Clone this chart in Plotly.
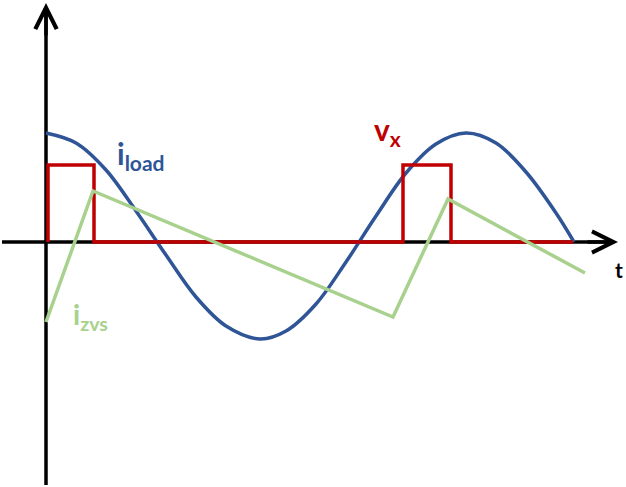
import plotly.graph_objects as go

# time axis (arbitrary units, origin at the vertical axis)
t_load = [0, 30, 60, 90, 120, 150, 180, 214, 240, 270, 300, 330, 360, 390, 420, 450, 480, 510, 528]
i_load = [109, 99, 72, 31, -13, -55, -84, -97, -89, -62, -20, 26, 69, 98, 109, 99, 70, 29, 0]

t_vx = [2, 2, 48, 48, 357, 357, 405, 405, 527]
v_x = [0, 77, 77, 0, 0, 77, 77, 0, 0]

t_zvs = [0, 47, 347, 402, 539]
i_zvs = [-80, 51, -75, 43, -31]

labels = ["i<sub>load</sub>", "v<sub>x</sub>", "i<sub>zvs</sub>", "t"]

BLUE = "#2F5597"
RED = "#C00000"
GREEN = "#A9D18E"

fig = go.Figure()
fig.add_trace(go.Scatter(x=t_load, y=i_load, mode="lines",
                         line=dict(color=BLUE, width=3.5, shape="spline"), hoverinfo="skip"))
fig.add_trace(go.Scatter(x=t_vx, y=v_x, mode="lines",
                         line=dict(color=RED, width=3.5), hoverinfo="skip"))
fig.add_trace(go.Scatter(x=t_zvs, y=i_zvs, mode="lines",
                         line=dict(color=GREEN, width=3.5), hoverinfo="skip"))

# axes lines (below traces)
fig.add_shape(type="line", x0=-44, x1=568, y0=0, y1=0, line=dict(color="black", width=3.5), layer="below")
fig.add_shape(type="line", x0=0, x1=0, y0=-243, y1=234, line=dict(color="black", width=3.5), layer="below")

# arrowheads
fig.add_annotation(x=572, y=0, ax=540, ay=0, axref="x", ayref="y", xref="x", yref="y",
                   showarrow=True, arrowhead=5, arrowwidth=3.5, arrowsize=1.2, arrowcolor="black", text="")
fig.add_annotation(x=0, y=239, ax=0, ay=205, axref="x", ayref="y", xref="x", yref="y",
                   showarrow=True, arrowhead=5, arrowwidth=3.5, arrowsize=1.2, arrowcolor="black", text="")

font = "Lato, Open Sans, sans-serif"
fig.add_annotation(x=69, y=87, text=labels[0], showarrow=False, xanchor="left", yanchor="middle",
                   font=dict(family=font, size=30, color=BLUE, weight="bold"))
fig.add_annotation(x=326, y=111, text=labels[1], showarrow=False, xanchor="left", yanchor="middle",
                   font=dict(family=font, size=30, color=RED, weight="bold"))
fig.add_annotation(x=25, y=-74, text=labels[2], showarrow=False, xanchor="left", yanchor="middle",
                   font=dict(family=font, size=28, color=GREEN, weight="bold"))
fig.add_annotation(x=573, y=-27, text=labels[3], showarrow=False, xanchor="center", yanchor="middle",
                   font=dict(family=font, size=21, color="black", weight="bold"))

fig.update_layout(width=626, height=487, margin=dict(l=0, r=0, t=0, b=0),
                  paper_bgcolor="white", plot_bgcolor="white", showlegend=False,
                  xaxis=dict(range=[-46, 580], visible=False, fixedrange=True),
                  yaxis=dict(range=[-245, 242], visible=False, fixedrange=True))

fig.write_html("out.html", config={"displayModeBar": False},
               post_script="document.body.style.margin='0';document.body.style.overflow='hidden';")
